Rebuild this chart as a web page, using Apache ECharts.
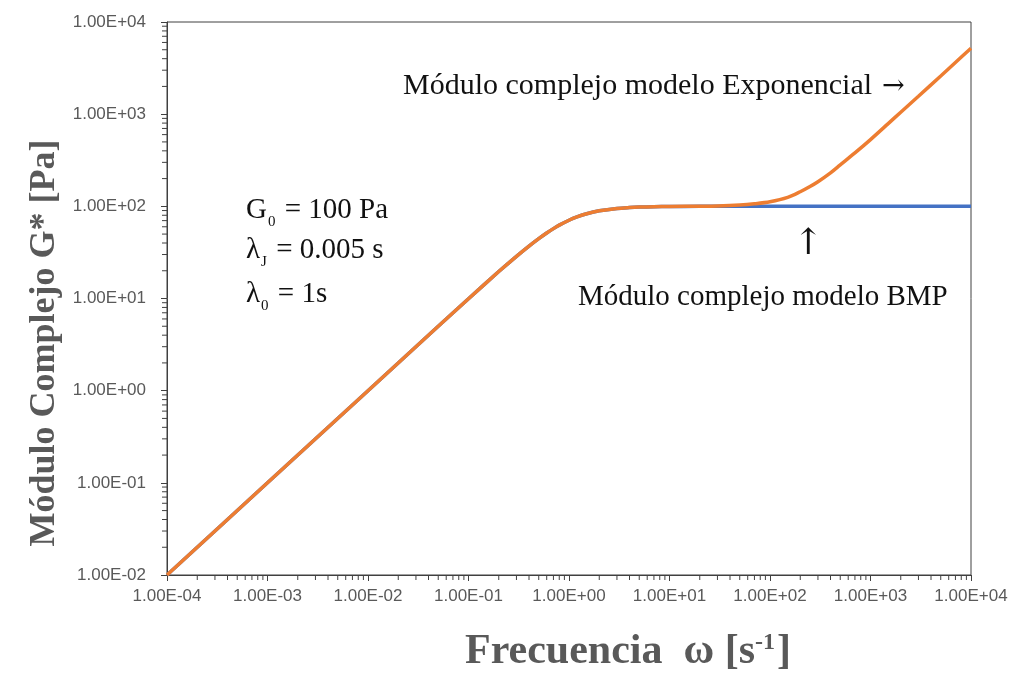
<!DOCTYPE html>
<html>
<head>
<meta charset="utf-8">
<script src="https://cdn.jsdelivr.net/npm/echarts@6/dist/echarts.min.js"></script>
<style>html,body{margin:0;padding:0;background:#fff}#c{width:1016px;height:675px}</style>
</head>
<body>
<div id="c"></div>
<script>
// Frequency (s^-1) and complex modulus (Pa)
const freqBMP = [1e-4, 1e-3, 1e-2, 0.05, 0.1, 0.2, 0.3, 0.4, 0.5, 0.6, 0.7, 0.8, 1, 1.2, 1.5, 2, 3, 4, 5, 7, 10, 20, 30, 50, 100, 1000, 10000];
const gBMP     = [0.01, 0.1, 1, 5, 9.95, 19.6, 28.7, 37.1, 44.7, 51.4, 57.3, 62.5, 70.7, 76.8, 83.2, 89.4, 94.9, 97.0, 98.1, 99.0, 99.5, 99.9, 99.9, 100, 100, 100, 100];
const freqExp  = [1e-4, 1e-3, 1e-2, 0.05, 0.1, 0.2, 0.3, 0.4, 0.5, 0.6, 0.7, 0.8, 1, 1.2, 1.5, 2, 3, 4, 5, 7, 10, 20, 30, 50, 70, 100, 150, 200, 250, 300, 400, 500, 700, 1000, 1500, 2000, 3000, 5000, 7000, 10000];
const gExp     = [0.01, 0.1, 1, 5, 9.95, 19.6, 28.7, 37.1, 44.7, 51.4, 57.3, 62.5, 70.7, 76.8, 83.2, 89.4, 94.9, 97.0, 98.1, 99.0, 99.6, 100.2, 100.9, 103.3, 106.5, 112, 125, 144, 164, 185, 231, 282, 380, 530, 790, 1050, 1565, 2600, 3640, 5200];
const xDecades = [1e-4, 1e-3, 1e-2, 1e-1, 1, 10, 100, 1000, 10000];
const yDecades = [1e-2, 1e-1, 1, 10, 100, 1000, 10000];
const minorMultipliers = [2, 3, 4, 5, 6, 7, 8, 9];

const seriesNames = ['Módulo complejo modelo BMP', 'Módulo complejo modelo Exponencial'];
const labelExp = 'Módulo complejo modelo Exponencial';
const labelBMP = 'Módulo complejo modelo BMP';
const xTitle = 'Frecuencia  ω [s';
const yTitle = 'Módulo Complejo G* [Pa]';

function fmtE(v) {
  const e = Math.round(Math.log10(v));
  const m = v / Math.pow(10, e);
  const sign = e < 0 ? '-' : '+';
  const a = Math.abs(e);
  return m.toFixed(2) + 'E' + sign + (a < 10 ? '0' + a : '' + a);
}

const axisColor = '#404040';
const labelColor = '#595959';
const serif = '"Liberation Serif", "Times New Roman", serif';
const sans = '"Liberation Sans", Arial, sans-serif';

const chart = echarts.init(document.getElementById('c'), null, {renderer: 'canvas'});
const option = {
  animation: false,
  backgroundColor: '#ffffff',
  grid: {left: 167, right: 45, top: 22, bottom: 100, show: true, borderColor: axisColor, borderWidth: 1, backgroundColor: 'transparent'},
  xAxis: {
    type: 'log', logBase: 10, min: 1e-4, max: 1e4,
    axisLine: {show: true, lineStyle: {color: axisColor, width: 1}},
    axisTick: {show: true, inside: false, length: 6, lineStyle: {color: axisColor}},
    axisLabel: {color: labelColor, fontFamily: sans, fontSize: 17, margin: 13, formatter: fmtE},
    splitLine: {show: false}
  },
  yAxis: {
    type: 'log', logBase: 10, min: 1e-2, max: 1e4,
    axisLine: {show: true, lineStyle: {color: axisColor, width: 1}},
    axisTick: {show: true, inside: false, length: 6, lineStyle: {color: axisColor}},
    axisLabel: {color: labelColor, fontFamily: sans, fontSize: 17, margin: 21, formatter: fmtE},
    splitLine: {show: false}
  },
  series: [
    {
      name: seriesNames[0], type: 'line', showSymbol: false, smooth: 0.3,
      lineStyle: {color: '#4472C4', width: 3.5}, z: 2,
      data: freqBMP.map((f, i) => [f, gBMP[i]])
    },
    {
      name: seriesNames[1], type: 'line', showSymbol: false, smooth: 0.3,
      lineStyle: {color: '#ED7D31', width: 3.5}, z: 3,
      data: freqExp.map((f, i) => [f, gExp[i]])
    }
  ]
};
chart.setOption(option);

// Minor ticks at 2..9 x 10^k, placed through the axes' own scales
const g = [];
for (let i = 0; i < xDecades.length - 1; i++) {
  minorMultipliers.forEach(m => {
    const v = xDecades[i] * m;
    const px = chart.convertToPixel({xAxisIndex: 0}, v);
    const py = chart.convertToPixel({yAxisIndex: 0}, yDecades[0]);
    g.push({type: 'line', shape: {x1: px, y1: py, x2: px, y2: py + 5}, style: {stroke: axisColor, lineWidth: 1}, silent: true});
  });
}
for (let i = 0; i < yDecades.length - 1; i++) {
  minorMultipliers.forEach(m => {
    const v = yDecades[i] * m;
    const py = chart.convertToPixel({yAxisIndex: 0}, v);
    const px = chart.convertToPixel({xAxisIndex: 0}, xDecades[0]);
    g.push({type: 'line', shape: {x1: px - 5, y1: py, x2: px, y2: py}, style: {stroke: axisColor, lineWidth: 1}, silent: true});
  });
}

// Axis titles
g.push({type: 'text', x: 45, y: 343, rotation: Math.PI / 2,
  style: {text: yTitle, fill: labelColor, font: 'bold 36px ' + serif, align: 'center', verticalAlign: 'middle'}});
g.push({type: 'text', x: 628, y: 650,
  style: {text: '{t|' + xTitle + '}{sup|-1}{t|]}', align: 'center', verticalAlign: 'middle',
    rich: {
      t: {fill: labelColor, fontFamily: serif, fontWeight: 'bold', fontSize: 42, lineHeight: 46, verticalAlign: 'bottom'},
      sup: {fill: labelColor, fontFamily: serif, fontWeight: 'bold', fontSize: 24, lineHeight: 46, verticalAlign: 'top', padding: [4, 2, 0, 0]}
    }}});

// Annotations
g.push({type: 'text', x: 403, y: 86,
  style: {text: labelExp, fill: '#111', font: '30px ' + serif, align: 'left', verticalAlign: 'middle'}});
g.push({type: 'text', x: 882, y: 87,
  style: {text: '→', fill: '#111', font: '27px "DejaVu Serif", serif', align: 'left', verticalAlign: 'middle'}});
g.push({type: 'text', x: 808, y: 245,
  style: {text: '↑', fill: '#111', font: '36px "DejaVu Serif", serif', align: 'center', verticalAlign: 'middle'}});
g.push({type: 'text', x: 578, y: 297,
  style: {text: labelBMP, fill: '#111', font: '29px ' + serif, align: 'left', verticalAlign: 'middle'}});

const params = [
  {y: 213, a: 'G', s: '0', b: ' = 100 Pa'},
  {y: 253, a: 'λ', s: 'J', b: ' = 0.005 s'},
  {y: 297, a: 'λ', s: '0', b: ' = 1s'}
];
params.forEach(p => {
  g.push({type: 'text', x: 246, y: p.y,
    style: {text: '{m|' + p.a + '}{s|' + p.s + '}{m|' + p.b + '}', align: 'left', verticalAlign: 'middle',
      rich: {
        m: {fill: '#111', fontFamily: serif, fontSize: 29, lineHeight: 34, verticalAlign: 'top'},
        s: {fill: '#111', fontFamily: serif, fontSize: 15, lineHeight: 34, verticalAlign: 'bottom', padding: [0, 2, 0, 1]}
      }}});
});

chart.setOption({graphic: g});
</script>
</body>
</html>
